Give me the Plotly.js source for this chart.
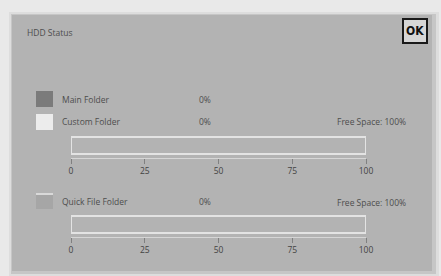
<!DOCTYPE html>
<html><head><meta charset="utf-8">
<script src="https://cdn.plot.ly/plotly-3.0.1.min.js"></script>
<style>html,body{margin:0;padding:0;background:#e8e8e8;}#chart{width:441px;height:276px;}</style>
</head><body><div id="chart"></div>
<script>
// ---- data ----
const chartTitle = "HDD Status";
const bar1Folders = ["Main Folder", "Custom Folder"];
const bar1Values = [0, 0];
const bar1Colors = ["#7b7b7b", "#ececec"];
const bar1Free = 100;
const bar2Folders = ["Quick File Folder"];
const bar2Values = [0];
const bar2Colors = ["#a6a6a6"];
const bar2Free = 100;
const tickVals = [0, 25, 50, 75, 100];
const tickText = ["0", "25", "50", "75", "100"];
const freeLabel = "Free Space: ";

// ---- layout helpers ----
const W = 441, H = 276;
const px = x => x / W, py = y => 1 - y / H;
const FONT = "Open Sans, DejaVu Sans, sans-serif";
const TXT = "#4d4d4d";

const traces = [];
bar1Folders.forEach((name, i) => traces.push({
  type: "bar", orientation: "h", name: name, x: [bar1Values[i]], y: [0], width: [1],
  marker: {color: bar1Colors[i], line: {width: 0}}, xaxis: "x", yaxis: "y", showlegend: false, hoverinfo: "skip"
}));
traces.push({type: "bar", orientation: "h", name: "Free", x: [bar1Free], y: [0], width: [1],
  marker: {color: "rgba(0,0,0,0)", line: {color: "#e3e3e3", width: 1.6}}, xaxis: "x", yaxis: "y", showlegend: false, hoverinfo: "skip"});
bar2Folders.forEach((name, i) => traces.push({
  type: "bar", orientation: "h", name: name, x: [bar2Values[i]], y: [0], width: [1],
  marker: {color: bar2Colors[i], line: {width: 0}}, xaxis: "x2", yaxis: "y2", showlegend: false, hoverinfo: "skip"
}));
traces.push({type: "bar", orientation: "h", name: "Free", x: [bar2Free], y: [0], width: [1],
  marker: {color: "rgba(0,0,0,0)", line: {color: "#e3e3e3", width: 1.6}}, xaxis: "x2", yaxis: "y2", showlegend: false, hoverinfo: "skip"});

function xax(anchor) {
  return {domain: [px(71), px(366)], range: [0, 100], anchor: anchor, tickmode: "array",
    tickvals: tickVals, ticktext: tickText, ticks: "outside", ticklen: 5, tickwidth: 1, tickcolor: "#808080",
    showline: true, linecolor: "#d6d6d6", linewidth: 1.2, showgrid: false, zeroline: false,
    tickfont: {family: FONT, size: 8.5, color: "#444"}, fixedrange: true};
}
function yax(top, bottom) {
  return {domain: [py(bottom), py(top)], range: [-0.706, 0.559], visible: false, fixedrange: true};
}

const annotations = [];
function txt(text, x, y, anchor, opts) {
  annotations.push(Object.assign({text: text, x: px(x), y: py(y), xref: "paper", yref: "paper",
    xanchor: anchor || "left", yanchor: "middle", showarrow: false,
    font: {family: FONT, size: 8.5, color: TXT}}, opts || {}));
}
const shapes = [];
// shadow + panel
shapes.push({type: "rect", xref: "paper", yref: "paper", x0: px(9), x1: px(439), y0: py(12), y1: py(276), fillcolor: "rgba(0,0,0,0.05)", line: {width: 0}, layer: "below"});
shapes.push({type: "rect", xref: "paper", yref: "paper", x0: px(11), x1: px(436), y0: py(14), y1: py(274), fillcolor: "rgba(0,0,0,0.10)", line: {width: 0}, layer: "below"});
shapes.push({type: "rect", xref: "paper", yref: "paper", x0: px(12), x1: px(432), y0: py(15), y1: py(271), fillcolor: "#b3b3b3", line: {width: 0}, layer: "below"});
// OK button
shapes.push({type: "rect", xref: "paper", yref: "paper", x0: px(403), x1: px(427), y0: py(19), y1: py(43), fillcolor: "#d6d6d6", line: {color: "#1a1a1a", width: 2}, layer: "below"});
txt("<b>OK</b>", 415, 31.5, "center", {font: {family: "DejaVu Sans Condensed, DejaVu Sans, sans-serif", size: 12, color: "#111"}});

txt(chartTitle, 25, 33);

function swatch(color, top) {
  shapes.push({type: "rect", xref: "paper", yref: "paper", x0: px(36), x1: px(53), y0: py(top + 16), y1: py(top), fillcolor: color, line: {width: 0}, layer: "below"});
}
const rows1 = [99, 122];
bar1Folders.forEach((name, i) => {
  swatch(bar1Colors[i], rows1[i] - 8);
  txt(name, 60, rows1[i]);
  txt(bar1Values[i] + "%", 197, rows1[i]);
});
txt(freeLabel + bar1Free + "%", 408, 122, "right");
const rows2 = [201];
bar2Folders.forEach((name, i) => {
  swatch(bar2Colors[i], rows2[i] - 8);
  shapes.push({type: "rect", xref: "paper", yref: "paper", x0: px(36), x1: px(53), y0: py(rows2[i] - 6), y1: py(rows2[i] - 8), fillcolor: "#d9d9d9", line: {width: 0}, layer: "below"});
  txt(name, 60, rows2[i]);
  txt(bar2Values[i] + "%", 197, rows2[i]);
});
txt(freeLabel + bar2Free + "%", 408, 202, "right");

const layout = {
  width: W, height: H, margin: {l: 0, r: 0, t: 0, b: 0},
  paper_bgcolor: "#e9e9e9", plot_bgcolor: "rgba(0,0,0,0)",
  barmode: "stack", bargap: 0, showlegend: false,
  xaxis: xax("y"), yaxis: yax(136, 157.5),
  xaxis2: xax("y2"), yaxis2: yax(215, 236.5),
  annotations: annotations, shapes: shapes
};
Plotly.newPlot("chart", traces, layout, {displayModeBar: false, staticPlot: true});
</script></body></html>
